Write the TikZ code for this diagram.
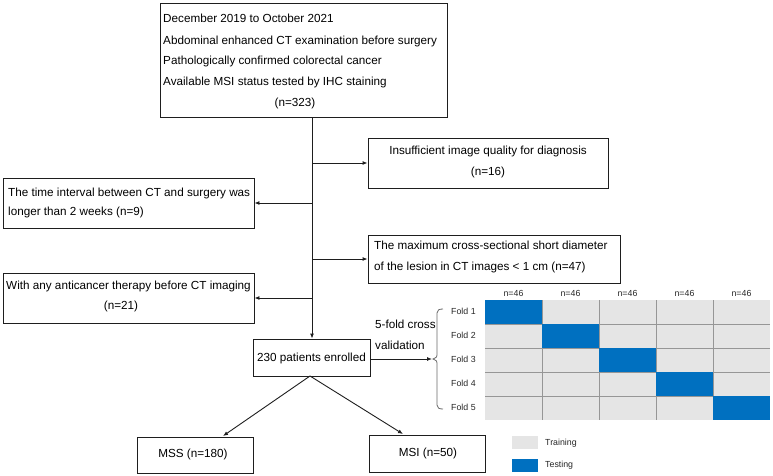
\documentclass[tikz,border=0pt]{standalone}
\usepackage{fontspec}
\setmainfont{Liberation Sans}
\usetikzlibrary{arrows.meta}
\definecolor{linec}{RGB}{30,30,30}
\definecolor{gridgray}{RGB}{229,229,229}
\definecolor{gridline}{RGB}{150,150,150}
\definecolor{testblue}{RGB}{0,112,192}
\tikzset{
  box/.style={draw=linec, line width=0.9pt, inner sep=0pt},
  txt/.style={inner sep=0pt, font=\fontsize{11.7}{14}\selectfont},
  small/.style={inner sep=0pt, font=\fontsize{8.8}{10}\selectfont, text=black!85},
  arr/.style={draw=linec, line width=0.9pt, -{Latex[length=5pt,width=4pt]}},
  cell/.style={draw=none, inner sep=0pt, minimum width=57pt, minimum height=24pt},
}
\begin{document}
\begin{tikzpicture}[x=1pt,y=-1pt]
\useasboundingbox (0,0) rectangle (773,476);
% boxes
\node[box, minimum width=287pt, minimum height=114pt] (top) at (303.5,60) {};
\node[box, minimum width=251pt, minimum height=50pt] (L1) at (128.5,203) {};
\node[box, minimum width=251pt, minimum height=50pt] (L2) at (128.5,298) {};
\node[box, minimum width=240pt, minimum height=50pt] (R1) at (488,163) {};
\node[box, minimum width=252pt, minimum height=48pt] (R2) at (494,259) {};
\node[box, minimum width=117pt, minimum height=37pt] (enr) at (311.5,357.5) {};
\node[box, minimum width=116pt, minimum height=36pt] (mss) at (195,455) {};
\node[box, minimum width=116pt, minimum height=37pt] (msi) at (427,453.5) {};
% texts
\node[txt, anchor=mid west] (t1) at (163,20) {December 2019 to October 2021};
\node[txt, anchor=mid west] (t2) at (163,42) {Abdominal enhanced CT examination before surgery};
\node[txt, anchor=mid west] (t3) at (163,62) {Pathologically confirmed colorectal cancer};
\node[txt, anchor=mid west] (t4) at (163,83) {Available MSI status tested by IHC staining};
\node[txt, anchor=mid] (t5) at (295,104) {(n=323)};
\node[txt, anchor=mid west] (l1a) at (8,194) {The time interval between CT and surgery was};
\node[txt, anchor=mid west] (l1b) at (8,213) {longer than 2 weeks (n=9)};
\node[txt, anchor=mid] (l2a) at (128.5,287) {With any anticancer therapy before CT imaging};
\node[txt, anchor=mid] (l2b) at (121,307) {(n=21)};
\node[txt, anchor=mid] (r1a) at (488,152) {Insufficient image quality for diagnosis};
\node[txt, anchor=mid] (r1b) at (488,173) {(n=16)};
\node[txt, anchor=mid west] (r2a) at (374,247) {The maximum cross-sectional short diameter};
\node[txt, anchor=mid west] (r2b) at (374,268) {of the lesion in CT images < 1 cm (n=47)};
\node[txt, anchor=mid] (et) at (311.5,359) {230 patients enrolled};
\node[txt, anchor=mid] (mt) at (193,455) {MSS (n=180)};
\node[txt, anchor=mid] (st) at (428,454) {MSI (n=50)};
\node[txt, anchor=mid west] (cv1) at (375,326) {5-fold cross};
\node[txt, anchor=mid west] (cv2) at (375,347) {validation};
% connectors
\coordinate (m) at (312,0);
\draw[arr] (top.south -| m) -- (enr.north -| m);
\draw[arr] (m |- R1.west) -- (R1.west);
\draw[arr] (m |- L1.east) -- (L1.east);
\draw[arr] (m |- R2.west) -- (R2.west);
\draw[arr] (m |- L2.east) -- (L2.east);
\coordinate (brc) at (432,359);
\draw[arr] (enr.east |- brc) -- (brc);
\coordinate (ms) at (310,376);
\coordinate (mssin) at (223,436);
\coordinate (msiin) at (403,434);
\draw[arr] (ms) -- (mssin);
\draw[arr] (ms) -- (msiin);
% bracket
\draw[gridline!70!black, line width=0.8pt] (443,309) .. controls (439,309) and (437,310) .. (437,313) -- (437,355) .. controls (437,357) .. (433,359) .. controls (437,361) .. (437,363) -- (437,405) .. controls (437,408) and (439,409) .. (443,409);
% fold labels
\foreach \i/\yy in {1/312,2/336,3/360,4/384,5/408}
  \node[small, anchor=mid west] (f\i) at (451,\yy) {Fold \i};
% grid
\fill[gridgray] (485,300) rectangle (770,420);
\foreach \xx in {542,599,656,713}
  \draw[gridline, line width=0.6pt] (\xx,300) -- (\xx,420);
\foreach \yy in {324,348,372,396}
  \draw[gridline, line width=0.6pt] (485,\yy) -- (770,\yy);
\foreach \i in {0,...,4}{
  \fill[testblue] ({485+57*\i},{300+24*\i}) rectangle ({542+57*\i},{324+24*\i});
  \node[small, anchor=mid] (n\i) at ({513.5+57*\i},294) {n=46};
}
% legend
\node[cell, fill=gridgray, minimum width=26pt, minimum height=13pt] (lg1) at (525,442.5) {};
\node[cell, fill=testblue, minimum width=26pt, minimum height=13pt] (lg2) at (525,465.5) {};
\node[small, anchor=mid west] (lt1) at (545,443) {Training};
\node[small, anchor=mid west] (lt2) at (545,465) {Testing};
\end{tikzpicture}
\end{document}
